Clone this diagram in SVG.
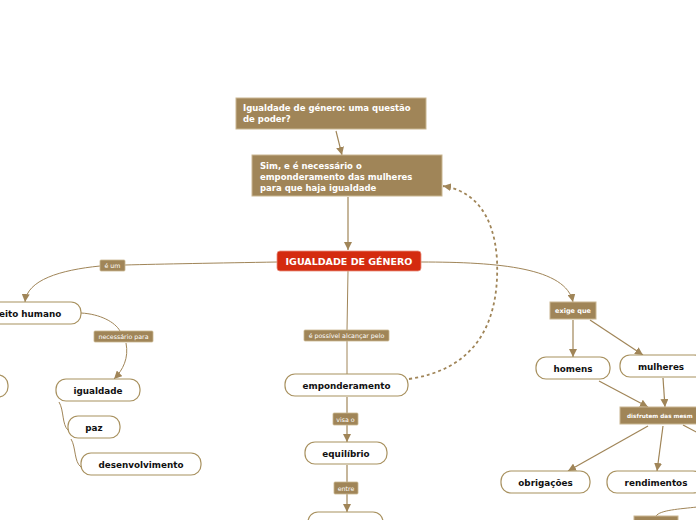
<svg xmlns="http://www.w3.org/2000/svg" width="696" height="520" viewBox="0 0 696 520">
<style>
.bg{fill:#ffffff}
.box{fill:#a08558;stroke:#c9b691;stroke-width:1}
.btxt{font-family:"DejaVu Sans",Verdana,sans-serif;font-weight:bold;font-size:8.5px;fill:#ffffff}
.node{fill:#ffffff;stroke:#a8915f;stroke-width:1.2}
.ntxt{font-family:"DejaVu Sans",Verdana,sans-serif;font-weight:bold;font-size:8.8px;fill:#111111;text-anchor:middle}
.lab{fill:#a08558;stroke:#c9b691;stroke-width:0.8}
.ltxt{font-family:"DejaVu Sans",Verdana,sans-serif;font-size:6.3px;fill:#ffffff;text-anchor:middle}
.lbtxt{font-family:"DejaVu Sans",Verdana,sans-serif;font-weight:bold;font-size:6.5px;fill:#ffffff;text-anchor:middle}
.con{fill:none;stroke:#a08558;stroke-width:1.2}
.thin{fill:none;stroke:#a08558;stroke-width:1}
.dash{fill:none;stroke:#a08558;stroke-width:1.8;stroke-dasharray:3,3}
</style>
<defs>
<marker id="arr" markerUnits="userSpaceOnUse" markerWidth="9" markerHeight="8" refX="8" refY="4" orient="auto">
<path d="M0,0 L8,4 L0,8 z" fill="#a08558"/>
</marker>
</defs>
<rect class="bg" x="0" y="0" width="696" height="520"/>
<g id="connectors">
<path class="con" d="M336,131 L342,155" marker-end="url(#arr)"/>
<path class="con" d="M348,197 L348,250" marker-end="url(#arr)"/>
<path class="thin" d="M277,262 C220,263 160,264 125,265"/>
<path class="thin" d="M100,266 C60,270 27,280 25,302" marker-end="url(#arr)"/>
<path class="thin" d="M81,313 C100,314 115,322 120,331"/>
<path class="thin" d="M126,343 C129,358 123,370 114,379" marker-end="url(#arr)"/>
<path class="thin" d="M59,402 C64,410 62,425 68,430"/>
<path class="thin" d="M71,439 C76,447 74,462 81,467"/>
<path class="thin" d="M348,271 L347,330"/>
<path class="thin" d="M347,341 L347,374"/>
<path class="dash" d="M409,379 C470,370 500,330 497,260 C494,210 470,190 443,186" marker-end="url(#arr)"/>
<path class="con" d="M347,397 L347,413"/>
<path class="con" d="M347,425 L347,442" marker-end="url(#arr)"/>
<path class="con" d="M347,465 L347,482"/>
<path class="con" d="M347,494 L347,512" marker-end="url(#arr)"/>
<path class="thin" d="M421,262 C500,262 566,268 573,302" marker-end="url(#arr)"/>
<path class="con" d="M573,320 L573,357" marker-end="url(#arr)"/>
<path class="con" d="M590,320 L643,355" marker-end="url(#arr)"/>
<path class="con" d="M599,381 L648,407" marker-end="url(#arr)"/>
<path class="con" d="M663,378 L665,407" marker-end="url(#arr)"/>
<path class="con" d="M648,426 L568,471" marker-end="url(#arr)"/>
<path class="con" d="M663,426 L657,471" marker-end="url(#arr)"/>
<path class="con" d="M683,425 L700,434"/>
<path class="thin" d="M656,516 C660,510 680,509 697,507"/>
</g>
<g id="n-questao">
<rect class="box" x="236" y="98" width="190" height="31"/>
<text class="btxt" x="243" y="111">Igualdade de género: uma questão</text>
<text class="btxt" x="243" y="122">de poder?</text>
</g>
<g id="n-sim">
<rect class="box" x="252" y="155" width="190" height="41"/>
<text class="btxt" x="260" y="169">Sim, e é necessário o</text>
<text class="btxt" x="260" y="180">emponderamento das mulheres</text>
<text class="btxt" x="260" y="191">para que haja igualdade</text>
</g>
<g id="n-central">
<rect x="277" y="251" width="144" height="20" rx="3" fill="#d42b0f" stroke="#e8917f" stroke-width="0.8"/>
<text x="349" y="265" text-anchor="middle" font-family="DejaVu Sans, Verdana, sans-serif" font-weight="bold" font-size="9.5" fill="#ffffff">IGUALDADE DE GÉNERO</text>
</g>
<g id="l-eum">
<rect class="lab" x="100" y="260" width="25" height="11" rx="1"/>
<text class="ltxt" x="112.5" y="268">é um</text>
</g>
<g id="n-direito">
<rect class="node" x="-40" y="302" width="121" height="22" rx="10"/>
<text class="ntxt" x="-1" y="317" text-anchor="start" style="text-anchor:start">eito humano</text>
</g>
<g id="l-necessario">
<rect class="lab" x="94" y="331" width="59" height="11" rx="1"/>
<text class="ltxt" x="123.5" y="339">necessário para</text>
</g>
<g id="n-left">
<rect class="node" x="-60" y="375" width="68" height="22" rx="10"/>
</g>
<g id="n-igualdade">
<rect class="node" x="56" y="379" width="84" height="22" rx="10"/>
<text class="ntxt" x="98" y="394">igualdade</text>
</g>
<g id="n-paz">
<rect class="node" x="68" y="416" width="52" height="22" rx="10"/>
<text class="ntxt" x="94" y="431">paz</text>
</g>
<g id="n-desenvolvimento">
<rect class="node" x="81" y="453" width="120" height="22" rx="10"/>
<text class="ntxt" x="141" y="468">desenvolvimento</text>
</g>
<g id="l-possivel">
<rect class="lab" x="304" y="330" width="85" height="11" rx="1"/>
<text class="ltxt" x="346.5" y="338">é possível alcançar pelo</text>
</g>
<g id="n-emponderamento">
<rect class="node" x="285" y="374" width="123" height="22" rx="10"/>
<text class="ntxt" x="346.5" y="389">emponderamento</text>
</g>
<g id="l-visa">
<rect class="lab" x="333" y="413" width="25" height="12" rx="1"/>
<text class="ltxt" x="345.5" y="421.5">visa o</text>
</g>
<g id="n-equilibrio">
<rect class="node" x="305" y="442" width="82" height="22" rx="10"/>
<text class="ntxt" x="346" y="457">equilíbrio</text>
</g>
<g id="l-entre">
<rect class="lab" x="334" y="482" width="24" height="12" rx="1"/>
<text class="ltxt" x="346" y="490.5">entre</text>
</g>
<g id="n-bottom">
<rect class="node" x="308" y="512" width="75" height="28" rx="10"/>
</g>
<g id="l-exige">
<rect class="box" x="550" y="302" width="46" height="17"/>
<text class="lbtxt" x="573" y="313">exige que</text>
</g>
<g id="n-homens">
<rect class="node" x="536" y="357" width="74" height="22" rx="10"/>
<text class="ntxt" x="573" y="372">homens</text>
</g>
<g id="n-mulheres">
<rect class="node" x="620" y="355" width="84" height="22" rx="10"/>
<text class="ntxt" x="661" y="370">mulheres</text>
</g>
<g id="l-disfrutem">
<rect class="box" x="620" y="407" width="82" height="17"/>
<text class="lbtxt" x="627" y="418" style="text-anchor:start;font-size:5.7px">disfrutem das mesm</text>
</g>
<g id="n-obrigacoes">
<rect class="node" x="501" y="471" width="89" height="22" rx="10"/>
<text class="ntxt" x="545.5" y="486">obrigações</text>
</g>
<g id="n-rendimentos">
<rect class="node" x="607" y="471" width="96" height="22" rx="10"/>
<text class="ntxt" x="656" y="486">rendimentos</text>
</g>
<g id="n-bottomright">
<rect class="box" x="634" y="516" width="44" height="10"/>
</g>
</svg>
